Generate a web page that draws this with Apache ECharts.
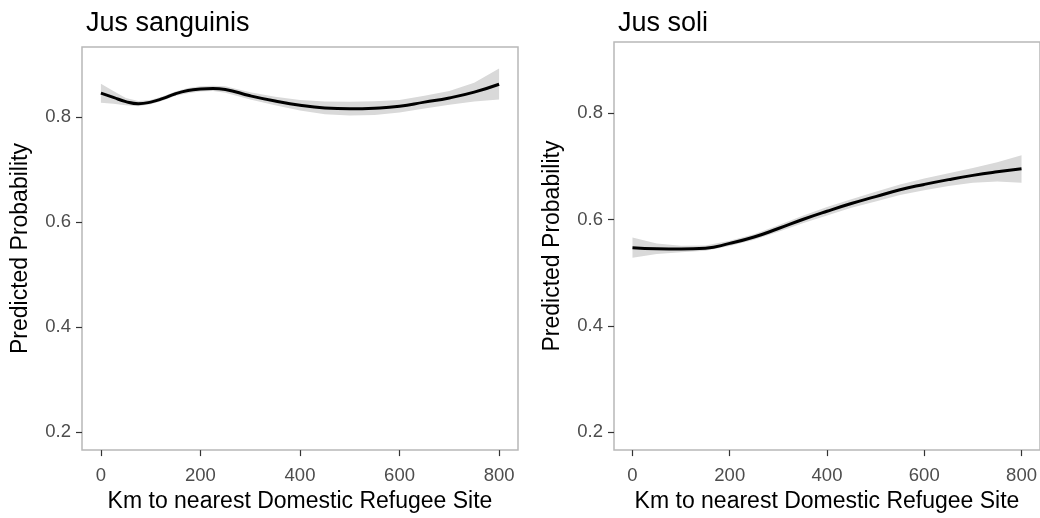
<!DOCTYPE html>
<html>
<head>
<meta charset="utf-8">
<script src="https://cdn.jsdelivr.net/npm/echarts@6/dist/echarts.min.js"></script>
<style>
html,body{margin:0;padding:0;background:#fff;}
#chart{width:1040px;height:518px;}
</style>
</head>
<body>
<div id="chart"></div>
<script>
// ---- Data ----
const panelTitles = ['Jus sanguinis', 'Jus soli'];
const xTitle = 'Km to nearest Domestic Refugee Site';
const yTitle = 'Predicted Probability';
const xTicks = [0, 200, 400, 600, 800];
const yTicks = [0.2, 0.4, 0.6, 0.8];

// Jus sanguinis
const sangKm    = [0, 25, 50, 75, 100, 125, 150, 175, 200, 225, 250, 300, 350, 400, 450, 500, 550, 600, 650, 700, 750, 800];
const sangFit   = [0.846, 0.838, 0.830, 0.826, 0.829, 0.836, 0.845, 0.851, 0.854, 0.855, 0.853, 0.841, 0.831, 0.823, 0.818, 0.8165, 0.8175, 0.821, 0.829, 0.837, 0.848, 0.863];
const sangLower = [0.828, 0.826, 0.823, 0.821, 0.825, 0.832, 0.841, 0.846, 0.849, 0.850, 0.847, 0.834, 0.823, 0.813, 0.806, 0.8035, 0.8045, 0.809, 0.817, 0.824, 0.830, 0.834];
const sangUpper = [0.864, 0.850, 0.837, 0.831, 0.833, 0.840, 0.849, 0.856, 0.859, 0.860, 0.859, 0.848, 0.839, 0.833, 0.830, 0.8295, 0.8305, 0.833, 0.841, 0.850, 0.866, 0.893];

// Jus soli
const soliKm    = [0, 50, 100, 150, 200, 250, 300, 350, 400, 450, 500, 550, 600, 650, 700, 750, 800];
const soliFit   = [0.547, 0.545, 0.5445, 0.546, 0.555, 0.567, 0.583, 0.600, 0.6155, 0.630, 0.643, 0.656, 0.666, 0.675, 0.683, 0.6897, 0.6955];
const soliLower = [0.528, 0.535, 0.5385, 0.541, 0.550, 0.562, 0.577, 0.593, 0.6075, 0.622, 0.634, 0.646, 0.655, 0.663, 0.669, 0.6717, 0.669];
const soliUpper = [0.566, 0.555, 0.5505, 0.551, 0.560, 0.572, 0.589, 0.607, 0.6235, 0.638, 0.652, 0.666, 0.677, 0.687, 0.697, 0.7077, 0.721];

// ---- Chart ----
const FONT = '"Liberation Sans", Arial, Helvetica, sans-serif';
const chart = echarts.init(document.getElementById('chart'), null, {renderer: 'canvas'});

function ribbonSeries(idx, xs, lo, hi) {
  const rows = xs.map((x, i) => [x, lo[i], hi[i]]);
  return {
    type: 'custom',
    xAxisIndex: idx, yAxisIndex: idx,
    data: rows,
    silent: true,
    clip: true,
    z: 1,
    renderItem: function (params, api) {
      if (params.dataIndex !== 0) return null;
      const pts = [];
      for (let i = 0; i < rows.length; i++) pts.push(api.coord([rows[i][0], rows[i][2]]));
      for (let i = rows.length - 1; i >= 0; i--) pts.push(api.coord([rows[i][0], rows[i][1]]));
      return {
        type: 'polygon',
        shape: {points: pts},
        style: {fill: '#d9d9d9', stroke: null}
      };
    },
    encode: {x: 0, y: [1, 2]}
  };
}

function lineSeries(idx, xs, ys) {
  return {
    type: 'line',
    xAxisIndex: idx, yAxisIndex: idx,
    data: xs.map((x, i) => [x, ys[i]]),
    smooth: 0.5,
    showSymbol: false,
    symbol: 'none',
    lineStyle: {color: '#000', width: 3},
    z: 3,
    silent: true
  };
}

function xAxisDef(idx) {
  return {
    type: 'value', gridIndex: idx,
    min: -38, max: 838,
    name: xTitle, nameLocation: 'middle', nameGap: 36,
    nameTextStyle: {fontFamily: FONT, fontSize: 23, color: '#000'},
    axisLine: {show: false, onZero: false},
    axisTick: {show: true, length: 6, lineStyle: {color: '#333', width: 1.2}, customValues: xTicks},
    axisLabel: {fontFamily: FONT, fontSize: 18.5, color: '#4d4d4d', margin: 16, customValues: xTicks},
    splitLine: {show: false}
  };
}

function yAxisDef(idx) {
  return {
    type: 'value', gridIndex: idx,
    min: 0.166, max: 0.934,
    name: yTitle, nameLocation: 'middle', nameGap: 50, nameRotate: 90,
    nameTextStyle: {fontFamily: FONT, fontSize: 23, color: '#000'},
    axisLine: {show: false, onZero: false},
    axisTick: {show: true, length: 6, lineStyle: {color: '#333', width: 1.2}, customValues: yTicks},
    axisLabel: {fontFamily: FONT, fontSize: 18.5, color: '#4d4d4d', margin: 11, customValues: yTicks,
      formatter: v => v.toFixed(1)},
    splitLine: {show: false}
  };
}

const option = {
  animation: false,
  backgroundColor: '#fff',
  title: [
    {text: panelTitles[0], left: 81, top: 5, textStyle: {fontFamily: FONT, fontSize: 27, fontWeight: 'normal', color: '#000'}},
    {text: panelTitles[1], left: 613, top: 5, textStyle: {fontFamily: FONT, fontSize: 27, fontWeight: 'normal', color: '#000'}}
  ],
  grid: [
    {left: 82, top: 47, width: 436, height: 411, show: true, borderColor: '#b8b8b8', borderWidth: 1.5, backgroundColor: 'transparent', containLabel: false},
    {left: 614, top: 42, width: 436, height: 415, show: true, borderColor: '#b8b8b8', borderWidth: 1.5, backgroundColor: 'transparent', containLabel: false}
  ],
  xAxis: [xAxisDef(0), xAxisDef(1)],
  yAxis: [yAxisDef(0), yAxisDef(1)],
  series: [
    ribbonSeries(0, sangKm, sangLower, sangUpper),
    lineSeries(0, sangKm, sangFit),
    ribbonSeries(1, soliKm, soliLower, soliUpper),
    lineSeries(1, soliKm, soliFit)
  ]
};
chart.setOption(option);
</script>
</body>
</html>
